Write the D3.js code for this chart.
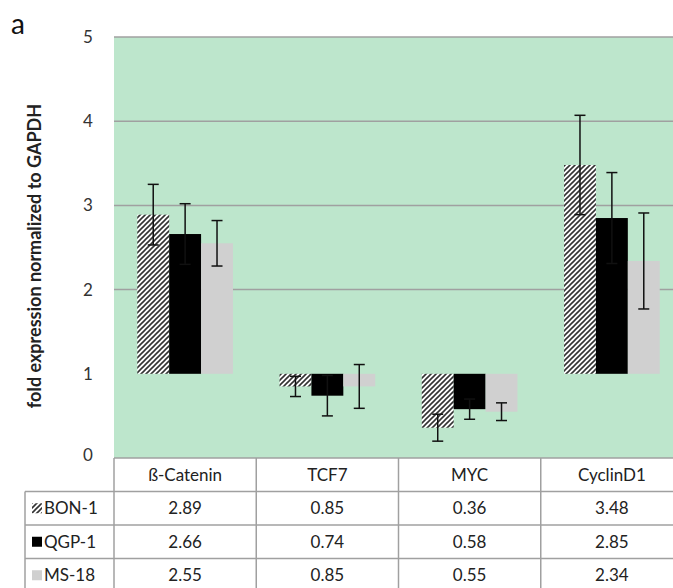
<!DOCTYPE html>
<html><head><meta charset="utf-8">
<script src="https://cdn.jsdelivr.net/npm/d3@7"></script>
<style>body{margin:0;background:#fff}svg{display:block}text{font-family:Lato,"Open Sans",sans-serif}</style>
</head><body><div id="chart"></div>
<script>
const categories = ["ß-Catenin", "TCF7", "MYC", "CyclinD1"];
const seriesNames = ["BON-1", "QGP-1", "MS-18"];
const bon1 = [2.89, 0.85, 0.36, 3.48];
const qgp1 = [2.66, 0.74, 0.58, 2.85];
const ms18 = [2.55, 0.85, 0.55, 2.34];
const bon1Err = [0.36, 0.12, 0.16, 0.59];
const qgp1Err = [0.36, 0.24, 0.12, 0.54];
const ms18Err = [0.27, 0.26, 0.105, 0.57];
const yTicks = [0, 1, 2, 3, 4, 5];
const gridTicks = [2, 3, 4, 5];
const baseline = 1;

const series = [
  {name: seriesNames[0], values: bon1, err: bon1Err, fill: "url(#hatch)", key: "url(#hatch)"},
  {name: seriesNames[1], values: qgp1, err: qgp1Err, fill: "#000", key: "#000"},
  {name: seriesNames[2], values: ms18, err: ms18Err, fill: "#d0d0d0", key: "#d0d0d0"}
];

const W = 673, H = 588;
const svg = d3.select("#chart").append("svg").attr("width", W).attr("height", H);
const defs = svg.append("defs");
const pat = defs.append("pattern").attr("id", "hatch").attr("patternUnits", "userSpaceOnUse")
  .attr("width", 5).attr("height", 5);
pat.append("rect").attr("width", 5).attr("height", 5).attr("fill", "#fff");
pat.append("path").attr("d", "M-1,1 l2,-2 M0,5 l5,-5 M4,6 l2,-2").attr("stroke", "#333").attr("stroke-width", 1.6);

const plotL = 114, plotR = 683, plotT = 37, plotB = 458;
const x = d3.scaleBand().domain(categories).range([plotL, plotR]);
const x1 = d3.scaleBand().domain(seriesNames).range([0, x.bandwidth()]).paddingOuter(0.73).paddingInner(0);
const y = d3.scaleLinear().domain([0, 5]).range([plotB, plotT]);

svg.append("rect").attr("x", plotL).attr("y", plotT).attr("width", plotR - plotL).attr("height", plotB - plotT).attr("fill", "#bde6cc");

svg.append("g").selectAll("line").data(gridTicks).join("line")
  .attr("x1", plotL).attr("x2", plotR).attr("y1", d => y(d)).attr("y2", d => y(d))
  .attr("stroke", "#a0a0a0").attr("stroke-width", 1.5);

// y-axis labels
const yAxis = d3.axisLeft(y).tickValues(yTicks).tickFormat(d3.format("d")).tickSize(0).tickPadding(0);
const ya = svg.append("g").attr("transform", "translate(88,0)").call(yAxis);
ya.select(".domain").remove();
ya.selectAll("text").attr("font-size", 17).attr("font-family", "Lato, sans-serif").attr("fill", "#333").attr("text-anchor", "middle");
ya.selectAll(".tick").filter(d => d === 0).select("text").attr("dy", "0.15em");

const title = svg.append("text").attr("transform", `translate(35,${256}) rotate(-90)`)
  .attr("text-anchor", "middle").attr("dy", "0.35em").attr("font-size", 13).attr("font-weight", "bold").attr("fill", "#222")
  .text("fold expression normalized to GAPDH");
const tl = title.node().getComputedTextLength();
title.attr("font-size", Math.min(18, 13 * 318 / tl));

svg.append("text").attr("x", 11).attr("y", 34).attr("font-size", 28).attr("fill", "#111").text("a");

// bars
const g = svg.append("g");
series.forEach(s => {
  categories.forEach((c, i) => {
    const v = s.values[i];
    const bx = x(c) + x1(s.name);
    g.append("rect").attr("x", bx).attr("width", x1.bandwidth())
      .attr("y", y(Math.max(v, baseline))).attr("height", Math.abs(y(v) - y(baseline)))
      .attr("fill", s.fill);
  });
});
// error bars
series.forEach(s => {
  categories.forEach((c, i) => {
    const v = s.values[i], e = s.err[i];
    const cx = x(c) + x1(s.name) + x1.bandwidth() / 2;
    const eg = g.append("g").attr("stroke", "#111").attr("stroke-width", 1.5);
    eg.append("line").attr("x1", cx).attr("x2", cx).attr("y1", y(v + e)).attr("y2", y(v - e));
    eg.append("line").attr("x1", cx - 5.5).attr("x2", cx + 5.5).attr("y1", y(v + e)).attr("y2", y(v + e));
    eg.append("line").attr("x1", cx - 5.5).attr("x2", cx + 5.5).attr("y1", y(v - e)).attr("y2", y(v - e));
  });
});

// data table
const rowH = 33.5;
const tableTop = plotB;
const legL = 25;
const tg = svg.append("g");
const lc = "#a0a0a0";
tg.append("line").attr("x1", plotL).attr("x2", plotR).attr("y1", tableTop).attr("y2", tableTop).attr("stroke", lc).attr("stroke-width", 1.5);
for (let r = 1; r <= 3; r++) {
  const yy = tableTop + r * rowH;
  tg.append("line").attr("x1", legL).attr("x2", plotR).attr("y1", yy).attr("y2", yy).attr("stroke", lc).attr("stroke-width", 1.5);
}
tg.append("line").attr("x1", legL).attr("x2", legL).attr("y1", tableTop + rowH).attr("y2", H + 5).attr("stroke", lc).attr("stroke-width", 1.5);
const colEdges = categories.map(c => x(c)).concat([plotR]);
colEdges.forEach(cx => {
  tg.append("line").attr("x1", cx).attr("x2", cx).attr("y1", tableTop).attr("y2", H + 5).attr("stroke", lc).attr("stroke-width", 1.5);
});
tg.selectAll("text.hdr").data(categories).join("text").attr("class", "hdr")
  .attr("x", d => x(d) + x.bandwidth() / 2).attr("y", tableTop + rowH / 2).attr("dy", "0.36em")
  .attr("text-anchor", "middle").attr("font-size", 17).attr("fill", "#222").text(d => d);
series.forEach((s, r) => {
  const cy = tableTop + (r + 1.5) * rowH;
  tg.selectAll(null).data(categories).join("text")
    .attr("x", d => x(d) + x.bandwidth() / 2).attr("y", cy).attr("dy", "0.36em")
    .attr("text-anchor", "middle").attr("font-size", 17).attr("fill", "#222")
    .text((d, i) => s.values[i].toFixed(2));
  tg.append("rect").attr("x", 32).attr("y", cy - 5).attr("width", 10).attr("height", 10).attr("fill", s.key);
  tg.append("text").attr("x", 44).attr("y", cy).attr("dy", "0.36em").attr("font-size", 17).attr("fill", "#222").text(s.name);
});
</script></body></html>
